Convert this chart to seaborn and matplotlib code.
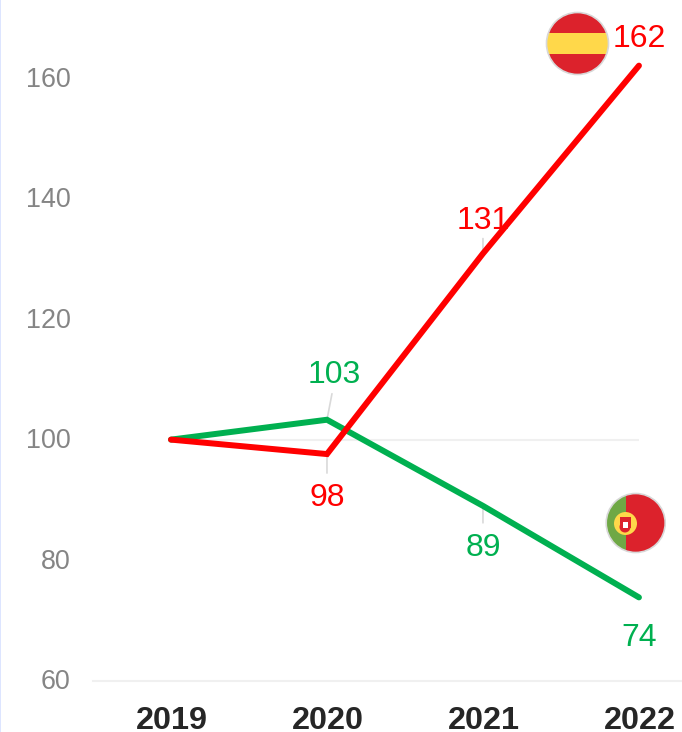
import pandas as pd
import matplotlib.pyplot as plt
import matplotlib.transforms as mtrans
import seaborn as sns
from matplotlib.patches import Circle, Rectangle

years = [2019, 2020, 2021, 2022]
spain = [100, 97.6, 130.9, 162.1]
portugal = [100, 103.3, 89, 73.8]
y_ticks = [60, 80, 100, 120, 140, 160]

RED = "#ff0000"
GREEN = "#00b050"
LEADER = "#d9d9d9"
GRID = "#f0f0f0"

sns.set_style("white")
plt.rcParams["font.family"] = ["Liberation Sans", "DejaVu Sans"]

W, H = 682, 732
fig = plt.figure(figsize=(W / 100, H / 100), dpi=100)

# axes placed in pixels so that the scales line up with the reference
ax_left, ax_bottom = 93, 680.5
ax = fig.add_axes([ax_left / W, (H - ax_bottom) / H, (W - ax_left) / W, ax_bottom / H])

df = pd.DataFrame({
    "year": years * 2,
    "value": spain + portugal,
    "country": ["Spain"] * 4 + ["Portugal"] * 4,
})

ax.hlines(100, years[0], years[-1], color=GRID, lw=1.5, zorder=1)
sns.lineplot(
    data=df, x="year", y="value", hue="country",
    hue_order=["Portugal", "Spain"], palette=[GREEN, RED],
    linewidth=4.3, legend=False, ax=ax, zorder=3,
    solid_capstyle="round", solid_joinstyle="miter", estimator=None, sort=False,
)

ax.set_xlim(2018.5, 2022.276)
ax.set_ylim(60, 173)
ax.set_xticks(years)
ax.set_xticklabels([str(y) for y in years], fontsize=23.3, fontweight="bold", color="#262626")
ax.set_yticks(y_ticks)
ax.set_yticklabels([str(v) for v in y_ticks], fontsize=19.4, color="#858585")
ax.tick_params(axis="x", length=0, pad=18.5)
ax.tick_params(axis="y", length=0, pad=16)

# nudge tick labels to sit level with the reference
shift_y = mtrans.ScaledTranslation(0, -1.5 / 100, fig.dpi_scale_trans)
shift_x = mtrans.ScaledTranslation(0.7 / 100, 0, fig.dpi_scale_trans)
for t in ax.get_yticklabels():
    t.set_verticalalignment("center")
    t.set_transform(t.get_transform() + shift_y)
for t in ax.get_xticklabels():
    t.set_transform(t.get_transform() + shift_x)

ax.set_xlabel("")
ax.set_ylabel("")
ax.patch.set_alpha(0)
for side in ["top", "left", "right"]:
    ax.spines[side].set_visible(False)
ax.spines["bottom"].set_color(GRID)
ax.spines["bottom"].set_linewidth(1.5)

# value labels: (year, value, text, colour, label offset px, leader end px)
PX = 0.72
labels = [
    (2020, portugal[1], "103", GREEN, (7, 45), (5, 26)),
    (2020, spain[1], "98", RED, (0, -44), (0, -19)),
    (2021, spain[2], "131", RED, (0, 33), (0, 15)),
    (2022, spain[3], "162", RED, (0, 27), None),
    (2021, portugal[2], "89", GREEN, (0, -42), (0, -17)),
    (2022, portugal[3], "74", GREEN, (0, -41), None),
]
for x, y, txt, col, off, lead in labels:
    if lead is not None:
        ax.annotate(
            "", xy=(x, y), xytext=(lead[0] * PX, lead[1] * PX),
            textcoords="offset points", zorder=2,
            arrowprops=dict(arrowstyle="-", color=LEADER, lw=1.2, shrinkA=0, shrinkB=0),
        )
    ax.annotate(
        txt, xy=(x, y), xytext=(off[0] * PX, off[1] * PX), textcoords="offset points",
        ha="center", va="center", fontsize=23, color=col, zorder=5,
    )

# overlay in pixel coordinates for the flags and the left page edge
over = fig.add_axes([0, 0, 1, 1], zorder=10)
over.set_xlim(0, W)
over.set_ylim(H, 0)
over.axis("off")
over.add_patch(Rectangle((0, 0), 1.3, H, color="#dde5ff", lw=0))


def flag(cx, cy, r, bands):
    clip = Circle((cx, cy), r, transform=over.transData)
    for x0, y0, w, h, col in bands:
        p = Rectangle((x0, y0), w, h, color=col, lw=0)
        over.add_patch(p)
        p.set_clip_path(clip)
    over.add_patch(Circle((cx, cy), r, fill=False, ec="#d8d8d8", lw=1.2))


flag_red = "#dc222c"
flag(577.5, 43.5, 31, [
    (540, 10, 80, 70, flag_red),
    (540, 33, 80, 21, "#ffd84a"),
])

flag(635.7, 523, 29.5, [
    (600, 490, 26, 70, "#6fa845"),
    (625.5, 490, 45, 70, flag_red),
])
over.add_patch(Circle((625.5, 523.5), 11.5, color="#ffd84a", lw=0))
over.add_patch(Rectangle((619.5, 517), 11, 11, color=flag_red, lw=0))
over.add_patch(Circle((625, 527), 5.5, color=flag_red, lw=0))
over.add_patch(Rectangle((623, 522), 5, 6, color="white", lw=0))

fig.savefig("out.png", dpi=100, facecolor="white")
